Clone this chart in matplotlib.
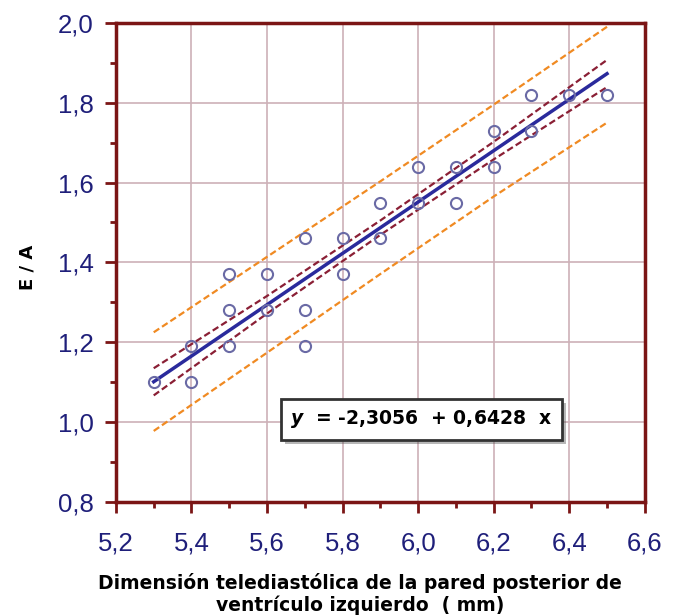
import numpy as np
import matplotlib
matplotlib.use("Agg")
import matplotlib.pyplot as plt
import matplotlib.patheffects as pe
from matplotlib.ticker import MultipleLocator, FuncFormatter

plt.rcParams['font.family'] = ['Liberation Sans', 'DejaVu Sans']

x_obs = [5.3, 5.4, 5.4, 5.5, 5.5, 5.5, 5.6, 5.6, 5.7, 5.7, 5.7, 5.8, 5.8,
         5.9, 5.9, 6.0, 6.0, 6.1, 6.1, 6.2, 6.2, 6.3, 6.3, 6.4, 6.5]
y_obs = [1.10, 1.19, 1.10, 1.37, 1.28, 1.19, 1.37, 1.28, 1.46, 1.28, 1.19, 1.46, 1.37,
         1.55, 1.46, 1.64, 1.55, 1.64, 1.55, 1.73, 1.64, 1.82, 1.73, 1.82, 1.82]

# regression shown in the box
intercept = -2.3056
slope = 0.6428

# bands
band_x = [5.3, 5.6, 5.9, 6.2, 6.5]
conf_hi = [1.135, 1.316, 1.505, 1.702, 1.907]
conf_lo = [1.067, 1.272, 1.469, 1.658, 1.839]
pred_hi = [1.225, 1.414, 1.603, 1.795, 1.990]
pred_lo = [0.978, 1.174, 1.371, 1.565, 1.750]

spine_col = '#7b1515'
navy = '#1f1f7a'

fig = plt.figure(figsize=(6.78, 6.16), dpi=100)
ax = fig.add_axes([0.171, 0.185, 0.780, 0.778])

ax.grid(True, which='major', color='#cdb0b8', lw=1.2)
ax.set_axisbelow(True)

ax.plot(band_x, pred_hi, color='#f08a22', lw=1.6, dashes=(3, 1.5))
ax.plot(band_x, pred_lo, color='#f08a22', lw=1.6, dashes=(3, 1.5))
ax.plot(band_x, conf_hi, color='#8a1f35', lw=1.6, dashes=(3, 1.5))
ax.plot(band_x, conf_lo, color='#8a1f35', lw=1.6, dashes=(3, 1.5))

fx = np.array([5.3, 6.5])
ax.plot(fx, intercept + slope * fx, color='#2a2a9c', lw=2.5)

ax.plot(x_obs, y_obs, 'o', ms=8, mfc='none', mec='#6a6aa5', mew=1.5)

ax.set_xlim(5.2, 6.6)
ax.set_ylim(0.8, 2.0)
ax.xaxis.set_major_locator(MultipleLocator(0.2))
ax.xaxis.set_minor_locator(MultipleLocator(0.1))
ax.yaxis.set_major_locator(MultipleLocator(0.2))
ax.yaxis.set_minor_locator(MultipleLocator(0.1))
comma = FuncFormatter(lambda v, p: f'{v:.1f}'.replace('.', ','))
ax.xaxis.set_major_formatter(comma)
ax.yaxis.set_major_formatter(comma)

for s in ax.spines.values():
    s.set_color(spine_col)
    s.set_linewidth(2.5)
ax.tick_params(which='major', length=8, width=2, color=spine_col,
               labelsize=18.5, labelcolor=navy)
ax.tick_params(axis='x', which='major', pad=13)
ax.tick_params(axis='y', which='major', pad=8)
ax.tick_params(which='minor', length=4.5, width=2, color=spine_col)

bold_wide = ['DejaVu Sans']
ax.set_xlabel('Dimensión telediastólica de la pared posterior de\nventrículo izquierdo  ( mm)',
              fontsize=13.5, fontweight='bold', family=bold_wide, labelpad=13,
              x=0.461, linespacing=1.12)
ax.set_ylabel('E / A', fontsize=13, fontweight='bold', family=bold_wide)
ax.yaxis.set_label_coords(-0.15, 0.49)

t = ax.text(0.33, 0.173, r'$\mathbfit{y}$  = -2,3056  + 0,6428  x', transform=ax.transAxes,
            fontsize=13.5, fontweight='bold', family=bold_wide, va='center', ha='left',
            bbox=dict(boxstyle='square,pad=0.5', fc='white', ec='#333333', lw=2))
t.get_bbox_patch().set_path_effects([pe.SimplePatchShadow(offset=(3, -3), alpha=0.4), pe.Normal()])

fig.savefig('out.png', dpi=100)
